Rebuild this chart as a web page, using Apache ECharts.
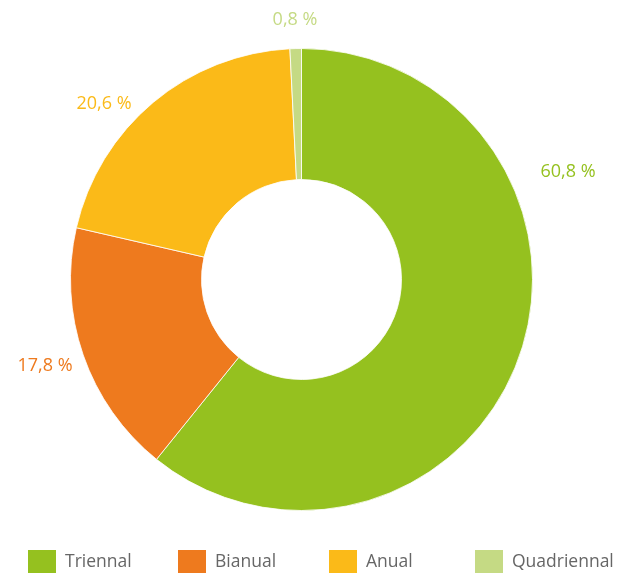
<!DOCTYPE html>
<html>
<head>
<meta charset="utf-8">
<script src="https://cdn.jsdelivr.net/npm/echarts@6/dist/echarts.min.js"></script>
<style>
  html, body { margin: 0; padding: 0; background: #fff; }
  #chart { width: 619px; height: 573px; }
</style>
</head>
<body>
<div id="chart"></div>
<script>
// dades del gràfic
const categories = ['Triennal', 'Bianual', 'Anual', 'Quadriennal'];
const values = [60.8, 17.8, 20.6, 0.8];
const colors = ['#95c11f', '#ee7a1e', '#fbba18', '#c5da84'];

// posició de les etiquetes (com a l'original, no al mig del sector)
const labelPos = [[568, 172], [45, 366], [104, 104], [295, 20]];
// posició x de cada element de la llegenda
const legendX = [26, 176, 327, 473];

let chart = echarts.init(document.getElementById('chart'));

let option = {
    animation: false,
    color: colors,
    // una llegenda per element per poder-les espaiar com a l'original
    legend: categories.map((c, i) => ({
        top: 548,
        left: legendX[i],
        padding: 0,
        itemWidth: 30,
        itemHeight: 26,
        icon: 'rect',
        textStyle: {
            fontFamily: 'Open Sans',
            fontSize: 17.5,
            color: '#666',
            padding: [0, 0, 0, 3]
        },
        data: [c]
    })),
    series: [{
        type: 'pie',
        center: [301.5, 279.5],
        radius: [100, 231],
        startAngle: 90,
        clockwise: true,
        itemStyle: {
            borderColor: '#fff',
            borderWidth: 0.8
        },
        label: {
            show: true,
            position: 'outside',
            overflow: 'none',
            fontFamily: 'Open Sans',
            fontSize: 18,
            formatter: p => p.value.toFixed(1).replace('.', ',') + ' %'
        },
        labelLine: { show: false },
        labelLayout: p => ({
            x: labelPos[p.dataIndex][0],
            y: labelPos[p.dataIndex][1],
            align: 'center',
            verticalAlign: 'middle'
        }),
        data: categories.map((c, i) => ({
            name: c,
            value: values[i],
            label: { color: colors[i] }
        }))
    }]
};

chart.setOption(option);

window.addEventListener('resize', () => {
    chart.resize();
});
</script>
</body>
</html>
